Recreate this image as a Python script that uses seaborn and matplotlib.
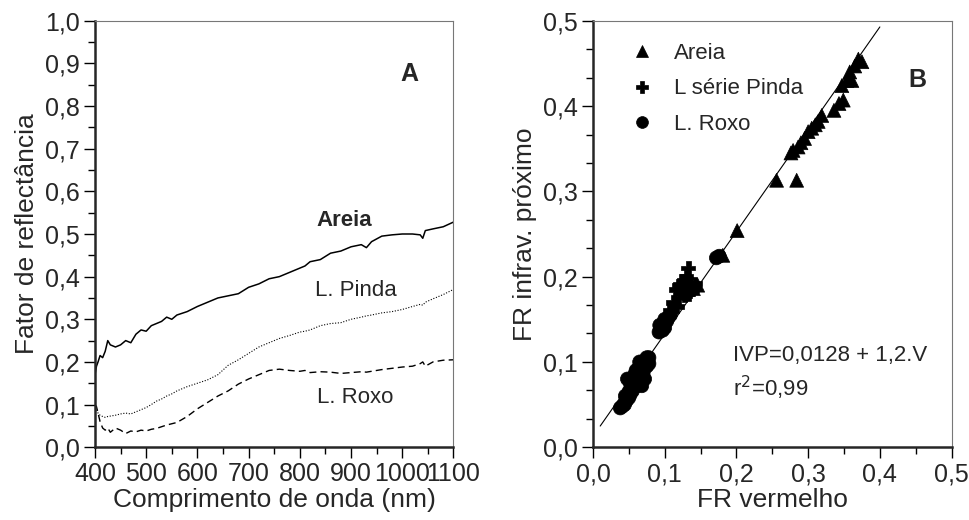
import pandas as pd
import matplotlib.pyplot as plt
import seaborn as sns
from matplotlib.ticker import MultipleLocator, FuncFormatter

# Panel A - reflectance curves
wavelength = [400, 403, 406, 410, 415, 420, 425, 430, 440, 450, 460, 470, 480, 490, 500,
              510, 520, 530, 540, 550, 560, 580, 600, 620, 640, 660, 680, 700, 720, 740,
              760, 780, 800, 810, 820, 840, 860, 880, 900, 920, 930, 940, 960, 980, 1000,
              1020, 1035, 1040, 1045, 1060, 1080, 1100]
areia = [0.17, 0.19, 0.20, 0.215, 0.21, 0.225, 0.25, 0.24, 0.235, 0.24, 0.25, 0.245, 0.265,
         0.275, 0.272, 0.285, 0.29, 0.295, 0.305, 0.30, 0.31, 0.318, 0.33, 0.34, 0.35, 0.355,
         0.36, 0.375, 0.383, 0.395, 0.40, 0.41, 0.42, 0.425, 0.435, 0.44, 0.455, 0.46, 0.47,
         0.475, 0.468, 0.482, 0.495, 0.498, 0.50, 0.50, 0.498, 0.49, 0.508, 0.512, 0.517, 0.528]
pinda = [0.10, 0.09, 0.08, 0.075, 0.072, 0.07, 0.072, 0.073, 0.075, 0.078, 0.08, 0.078, 0.083,
         0.088, 0.093, 0.10, 0.108, 0.113, 0.12, 0.125, 0.132, 0.142, 0.15, 0.158, 0.17, 0.192,
         0.205, 0.22, 0.235, 0.245, 0.255, 0.262, 0.27, 0.272, 0.275, 0.285, 0.29, 0.292, 0.30,
         0.305, 0.308, 0.31, 0.315, 0.318, 0.323, 0.33, 0.335, 0.333, 0.34, 0.348, 0.358, 0.37]
roxo = [0.10, 0.095, 0.08, 0.06, 0.045, 0.04, 0.045, 0.035, 0.045, 0.04, 0.032, 0.038, 0.036,
        0.04, 0.038, 0.042, 0.044, 0.048, 0.052, 0.055, 0.058, 0.072, 0.09, 0.105, 0.12, 0.132,
        0.148, 0.16, 0.17, 0.18, 0.183, 0.18, 0.178, 0.18, 0.175, 0.177, 0.176, 0.173, 0.175,
        0.177, 0.176, 0.178, 0.182, 0.185, 0.188, 0.19, 0.196, 0.2, 0.19, 0.2, 0.204, 0.205]

# Panel B - red vs near infrared
areia_red = [0.370, 0.375, 0.365, 0.358, 0.354, 0.361, 0.347, 0.349, 0.343, 0.336, 0.319,
             0.314, 0.310, 0.305, 0.300, 0.295, 0.290, 0.286, 0.279, 0.276, 0.284, 0.256,
             0.201, 0.181, 0.146, 0.140]
areia_nir = [0.455, 0.452, 0.447, 0.440, 0.430, 0.430, 0.424, 0.407, 0.403, 0.395, 0.389,
             0.382, 0.378, 0.374, 0.370, 0.362, 0.357, 0.352, 0.348, 0.345, 0.313, 0.313,
             0.254, 0.225, 0.190, 0.186]
pinda_red = [0.133, 0.130, 0.125, 0.120, 0.115, 0.125, 0.130, 0.136, 0.142, 0.120, 0.112,
             0.117, 0.107, 0.128, 0.138, 0.122, 0.133]
pinda_nir = [0.210, 0.200, 0.195, 0.190, 0.185, 0.185, 0.190, 0.192, 0.192, 0.175, 0.170,
             0.165, 0.160, 0.178, 0.185, 0.182, 0.180]
roxo_red = [0.038, 0.041, 0.044, 0.047, 0.050, 0.052, 0.055, 0.057, 0.055, 0.058, 0.060,
            0.062, 0.063, 0.065, 0.067, 0.068, 0.070, 0.072, 0.073, 0.075, 0.050, 0.053,
            0.060, 0.065, 0.070, 0.078, 0.048, 0.072, 0.092, 0.095, 0.098, 0.100, 0.103,
            0.097, 0.105, 0.108, 0.172, 0.176, 0.060, 0.065, 0.058, 0.075, 0.078, 0.045,
            0.052, 0.068, 0.100, 0.093]
roxo_nir = [0.046, 0.048, 0.050, 0.055, 0.058, 0.062, 0.066, 0.070, 0.075, 0.078, 0.072,
            0.076, 0.080, 0.085, 0.090, 0.082, 0.088, 0.095, 0.100, 0.105, 0.065, 0.070,
            0.085, 0.095, 0.100, 0.098, 0.080, 0.080, 0.135, 0.140, 0.145, 0.150, 0.148,
            0.137, 0.152, 0.155, 0.222, 0.224, 0.090, 0.100, 0.085, 0.095, 0.105, 0.060,
            0.075, 0.072, 0.140, 0.143]

fit_x = [0.01, 0.40]
fit_y = [0.0128 + 1.2 * v for v in fit_x]

sns.set_style("ticks")
plt.rcParams['font.family'] = ['Liberation Sans', 'DejaVu Sans']
plt.rcParams['xtick.direction'] = 'out'
plt.rcParams['ytick.direction'] = 'out'

comma = FuncFormatter(lambda v, p: f"{v:.1f}".replace('.', ','))
comma0 = FuncFormatter(lambda v, p: f"{v:.0f}")

fig = plt.figure(figsize=(9.69, 5.2), dpi=100)
ax1 = fig.add_axes([0.098, 0.140, 0.370, 0.820])
ax2 = fig.add_axes([0.612, 0.140, 0.370, 0.820])

spec = pd.DataFrame({'wl': wavelength, 'Areia': areia, 'L. Pinda': pinda, 'L. Roxo': roxo})
sns.lineplot(data=spec, x='wl', y='Areia', ax=ax1, color='black', lw=1.1)
sns.lineplot(data=spec, x='wl', y='L. Pinda', ax=ax1, color='black', lw=0.8, ls=(0, (1, 1.5)))
sns.lineplot(data=spec, x='wl', y='L. Roxo', ax=ax1, color='black', lw=1.0, ls=(0, (5, 3)))

ax1.set_xlim(400, 1100)
ax1.set_ylim(0, 1.0)
ax1.xaxis.set_major_locator(MultipleLocator(100))
ax1.xaxis.set_minor_locator(MultipleLocator(50))
ax1.yaxis.set_major_locator(MultipleLocator(0.1))
ax1.yaxis.set_minor_locator(MultipleLocator(0.05))
ax1.xaxis.set_major_formatter(comma0)
ax1.yaxis.set_major_formatter(comma)
ax1.set_xlabel('Comprimento de onda (nm)', fontsize=19, labelpad=1)
ax1.set_ylabel('Fator de reflectância', fontsize=19, labelpad=4)
ax1.text(886, 0.532, 'Areia', fontsize=16, fontweight='bold', ha='center', va='center')
ax1.text(909, 0.368, 'L. Pinda', fontsize=16, ha='center', va='center')
ax1.text(909, 0.117, 'L. Roxo', fontsize=16, ha='center', va='center')
ax1.text(1013, 0.876, 'A', fontsize=18, fontweight='bold', ha='center', va='center')

scat = pd.DataFrame({
    'red': areia_red + pinda_red + roxo_red,
    'nir': areia_nir + pinda_nir + roxo_nir,
    'solo': ['Areia'] * len(areia_red) + ['L série Pinda'] * len(pinda_red)
            + ['L. Roxo'] * len(roxo_red),
})
ax2.plot(fit_x, fit_y, color='black', lw=0.8)
sns.scatterplot(data=scat, x='red', y='nir', style='solo', ax=ax2, color='black',
                markers={'Areia': '^', 'L série Pinda': 'P', 'L. Roxo': 'o'},
                s=100, edgecolor='black', linewidth=0.5, legend=True)
leg = ax2.legend(loc='upper left', bbox_to_anchor=(0.045, 0.995), frameon=False, fontsize=16,
                 handlelength=1.2, handletextpad=0.8, labelspacing=0.65, markerscale=0.85)
for h in leg.legend_handles:
    h.set_color('black')

ax2.set_xlim(0, 0.5)
ax2.set_ylim(0, 0.5)
ax2.xaxis.set_major_locator(MultipleLocator(0.1))
ax2.xaxis.set_minor_locator(MultipleLocator(0.05))
ax2.yaxis.set_major_locator(MultipleLocator(0.1))
ax2.yaxis.set_minor_locator(MultipleLocator(0.1 / 3))
ax2.xaxis.set_major_formatter(comma)
ax2.yaxis.set_major_formatter(comma)
ax2.set_xlabel('FR vermelho', fontsize=19, labelpad=1)
ax2.set_ylabel('FR infrav. próximo', fontsize=19, labelpad=4)
ax2.text(0.195, 0.108, 'IVP=0,0128 + 1,2.V', fontsize=16, ha='left', va='center')
ax2.text(0.195, 0.069, 'r$^2$=0,99', fontsize=16, ha='left', va='center')
ax2.text(0.453, 0.430, 'B', fontsize=18, fontweight='bold', ha='center', va='center')

for ax in (ax1, ax2):
    ax.tick_params(axis='both', which='major', labelsize=18, length=8, width=1, color='black',
                   pad=3)
    ax.tick_params(axis='both', which='minor', length=5, width=1, color='black')
    ax.spines['left'].set_linewidth(1.8)
    ax.spines['bottom'].set_linewidth(1.8)
    for side in ('top', 'right'):
        ax.spines[side].set_visible(True)
        ax.spines[side].set_color('#777777')
        ax.spines[side].set_linewidth(0.8)

fig.savefig('out.png', dpi=100)
